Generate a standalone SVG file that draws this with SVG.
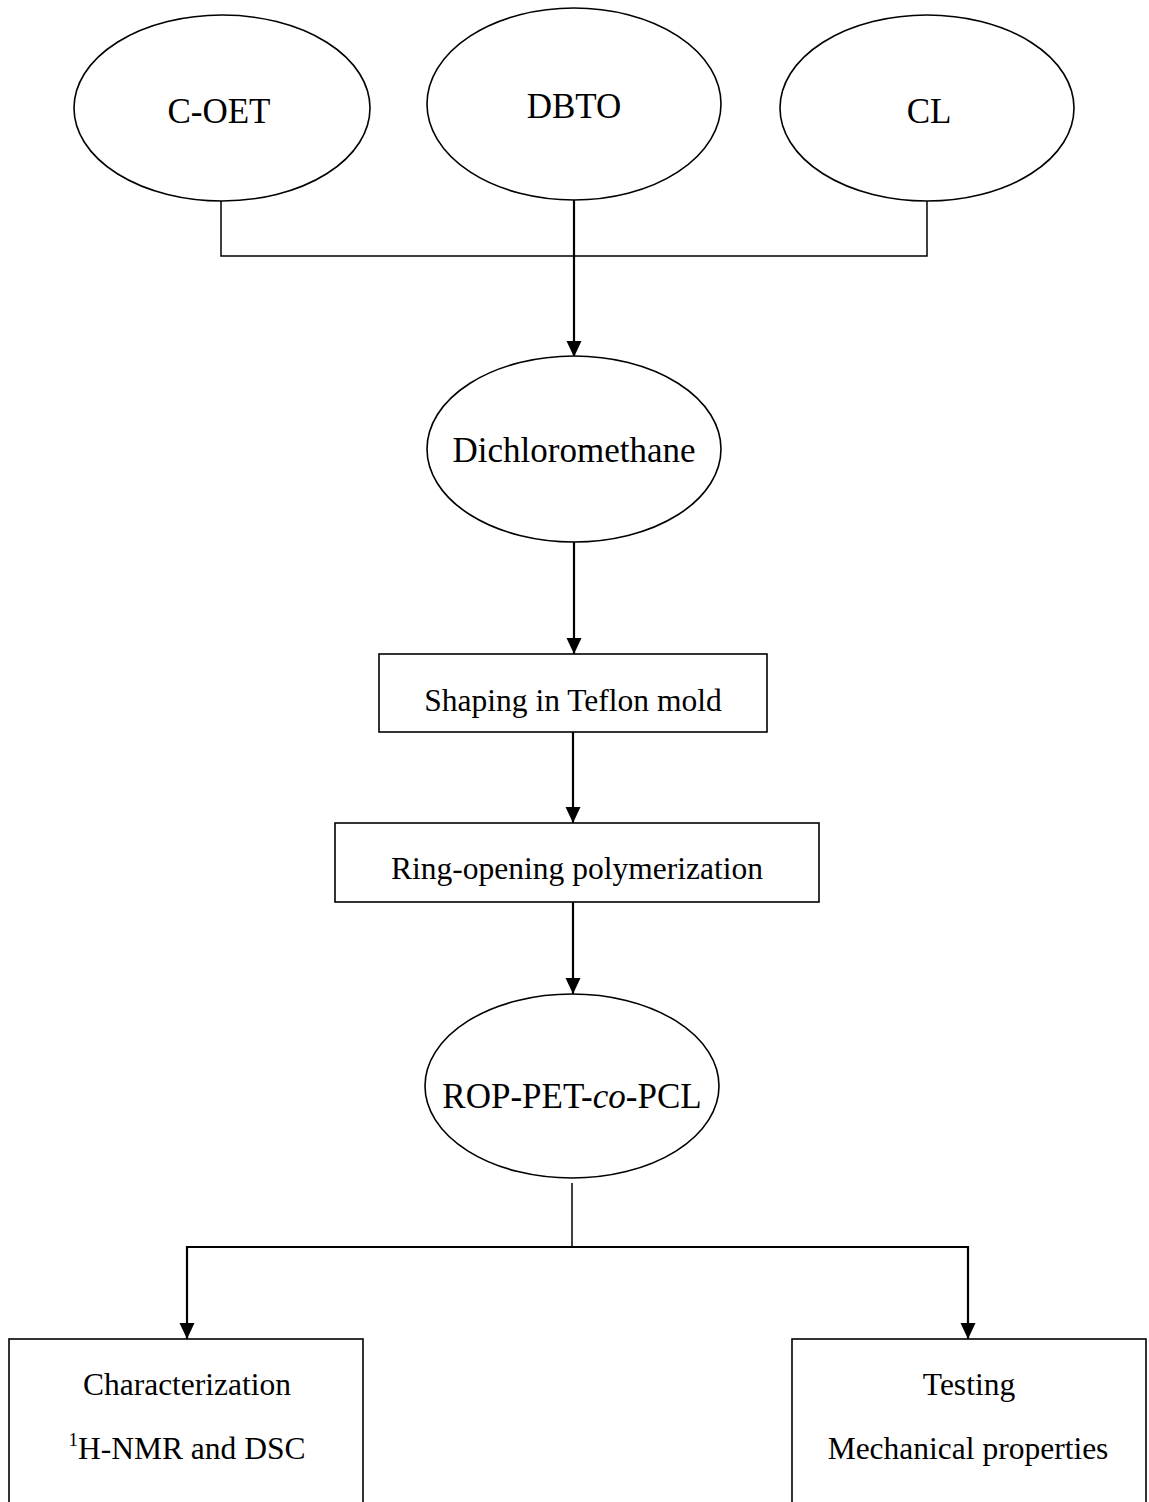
<svg xmlns="http://www.w3.org/2000/svg" width="1149" height="1502" viewBox="0 0 1149 1502">
<style>
.node{fill:#fff;stroke:#000;stroke-width:1.6}
.t{font-family:"Liberation Serif","Times New Roman",serif;fill:#000;text-anchor:middle}
.big{font-size:35px}
.box{font-size:31.5px}
.thin{fill:none;stroke:#000;stroke-width:1.5}
.arr{fill:none;stroke:#000;stroke-width:2.2;marker-end:url(#ah)}
</style>
<defs>
<marker id="ah" markerUnits="userSpaceOnUse" markerWidth="17" markerHeight="16" refX="16" refY="7.5" orient="auto" viewBox="0 0 17 16">
<path d="M0,0 L16,7.5 L0,15 z" fill="#000"/>
</marker>
</defs>
<rect x="0" y="0" width="1149" height="1502" fill="#fff"/>
<g id="connectors">
<path class="thin" d="M221 201 V256 H927 V201"/>
<line class="arr" x1="574" y1="200" x2="574" y2="357"/>
<line class="arr" x1="574" y1="542" x2="574" y2="654"/>
<line class="arr" x1="573" y1="732" x2="573" y2="823"/>
<line class="arr" x1="573" y1="902" x2="573" y2="994"/>
<line class="thin" x1="572" y1="1183" x2="572" y2="1247"/>
<line x1="186" y1="1247" x2="969" y2="1247" stroke="#000" stroke-width="2"/>
<line class="arr" x1="187" y1="1246" x2="187" y2="1339"/>
<line class="arr" x1="968" y1="1246" x2="968" y2="1339"/>
</g>
<g id="n-coet">
<ellipse class="node" cx="222" cy="108" rx="148" ry="93"/>
<text class="t big" x="219" y="123">C-OET</text>
</g>
<g id="n-dbto">
<ellipse class="node" cx="574" cy="104" rx="147" ry="96"/>
<text class="t big" x="574" y="118">DBTO</text>
</g>
<g id="n-cl">
<ellipse class="node" cx="927" cy="108" rx="147" ry="93"/>
<text class="t big" x="929" y="123">CL</text>
</g>
<g id="n-dcm">
<ellipse class="node" cx="574" cy="449" rx="147" ry="93"/>
<text class="t big" x="574" y="462">Dichloromethane</text>
</g>
<g id="n-shaping">
<rect class="node" x="379" y="654" width="388" height="78"/>
<text class="t box" x="573" y="711">Shaping in Teflon mold</text>
</g>
<g id="n-rop">
<rect class="node" x="335" y="823" width="484" height="79"/>
<text class="t box" x="577" y="879">Ring-opening polymerization</text>
</g>
<g id="n-copolymer">
<ellipse class="node" cx="572" cy="1086" rx="147" ry="92"/>
<text class="t big" x="572" y="1108">ROP-PET-<tspan font-style="italic">co</tspan>-PCL</text>
</g>
<g id="n-char">
<rect class="node" x="9" y="1339" width="354" height="175"/>
<text class="t box" x="187" y="1395">Characterization</text>
<text class="t box" x="187" y="1459"><tspan font-size="19" dy="-13">1</tspan><tspan dy="13">H-NMR and DSC</tspan></text>
</g>
<g id="n-test">
<rect class="node" x="792" y="1339" width="354" height="175"/>
<text class="t box" x="969" y="1395">Testing</text>
<text class="t box" x="968" y="1459">Mechanical properties</text>
</g>
</svg>
